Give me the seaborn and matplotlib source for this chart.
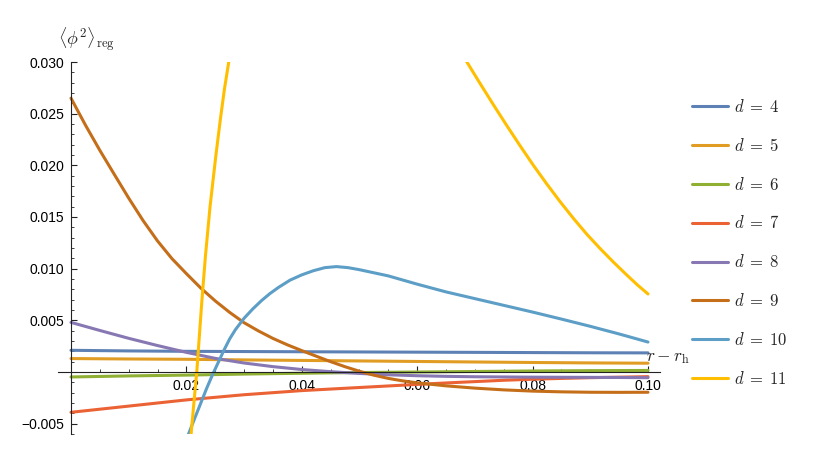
import numpy as np
import pandas as pd
import matplotlib
matplotlib.use("Agg")
import matplotlib.pyplot as plt
import seaborn as sns
from matplotlib.ticker import FixedLocator, FuncFormatter

# ---------------- data ----------------
dims = [4, 5, 6, 7, 8, 9, 10, 11]
colors = ["#5E81B5", "#E19C24", "#8FB032", "#EB6235",
          "#8778B3", "#C56E1A", "#5D9EC7", "#FFBF00"]

x_coarse = [0.00, 0.01, 0.02, 0.03, 0.04, 0.05, 0.06, 0.07, 0.08, 0.09, 0.10]
y_d4 = [0.00210, 0.00204, 0.00200, 0.00198, 0.00196, 0.00194, 0.00192, 0.00190, 0.00188, 0.00186, 0.00185]
y_d5 = [0.00130, 0.00126, 0.00123, 0.00117, 0.00112, 0.00107, 0.00102, 0.00097, 0.00092, 0.00088, 0.00085]
y_d6 = [-0.00048, -0.00038, -0.00030, -0.00020, -0.00012, -0.00005, 0.00000, 0.00005, 0.00010, 0.00013, 0.00015]

x_fine = [0.000, 0.005, 0.010, 0.015, 0.020, 0.025, 0.030, 0.035, 0.040, 0.045, 0.050,
          0.055, 0.060, 0.065, 0.070, 0.075, 0.080, 0.085, 0.090, 0.095, 0.100]
y_d7 = [-0.00390, -0.00360, -0.00330, -0.00300, -0.00270, -0.00245, -0.00220, -0.00200, -0.00180, -0.00165, -0.00150,
        -0.00135, -0.00120, -0.00106, -0.00093, -0.00080, -0.00070, -0.00062, -0.00055, -0.00050, -0.00045]
y_d8 = [0.00480, 0.00402, 0.00326, 0.00256, 0.00190, 0.00132, 0.00087, 0.00052, 0.00024, 0.00003, -0.00014,
        -0.00027, -0.00036, -0.00042, -0.00046, -0.00048, -0.00050, -0.00051, -0.00052, -0.00053, -0.00055]

x_d9 = [0.0000, 0.0025, 0.0050, 0.0075, 0.0100, 0.0125, 0.0150, 0.0175, 0.0200, 0.0225,
        0.0250, 0.0275, 0.0300, 0.0325, 0.0350, 0.0375, 0.0400, 0.0425, 0.0450, 0.0475,
        0.0500, 0.0525, 0.0550, 0.0575, 0.0600, 0.0650, 0.0700, 0.0750, 0.0800, 0.0850,
        0.0900, 0.0950, 0.1000]
y_d9 = [0.02650, 0.02390, 0.02145, 0.01913, 0.01683, 0.01465, 0.01268, 0.01097, 0.00952, 0.00812,
        0.00688, 0.00577, 0.00477, 0.00397, 0.00325, 0.00263, 0.00207, 0.00153, 0.00100, 0.00051,
        0.00007, -0.00031, -0.00062, -0.00086, -0.00105, -0.00134, -0.00156, -0.00173, -0.00185, -0.00192,
        -0.00196, -0.00197, -0.00196]

x_d10 = [0.0203, 0.0215, 0.0225, 0.0235, 0.0245, 0.0255, 0.0265, 0.0275, 0.0285, 0.0300,
         0.0315, 0.0330, 0.0345, 0.0360, 0.0380, 0.0400, 0.0420, 0.0440, 0.0460, 0.0480,
         0.0500, 0.0525, 0.0550, 0.0575, 0.0600, 0.0650, 0.0700, 0.0750, 0.0800, 0.0850,
         0.0900, 0.0950, 0.1000]
y_d10 = [-0.0061, -0.0044, -0.0030, -0.0016, -0.0003, 0.0009, 0.0021, 0.0032, 0.0041, 0.0052,
         0.0061, 0.0069, 0.0076, 0.0082, 0.0089, 0.0094, 0.0098, 0.0101, 0.0102, 0.0101,
         0.0099, 0.0096, 0.0093, 0.0089, 0.0085, 0.00775, 0.0071, 0.00645, 0.0058, 0.00512,
         0.00442, 0.00368, 0.0029]

x_d11_left = [0.0208, 0.0213, 0.0218, 0.02225, 0.0227, 0.0233, 0.0241, 0.0251, 0.0259, 0.0266, 0.0274]
y_d11_left = [-0.0061, -0.0030, 0.0000, 0.0035, 0.0070, 0.0112, 0.0160, 0.0209, 0.0245, 0.0274, 0.0302]
x_d11_right = [0.0685, 0.0708, 0.0732, 0.0755, 0.0778, 0.0801, 0.0824, 0.0848, 0.0871, 0.0894,
               0.0917, 0.0940, 0.0963, 0.0982, 0.1000]
y_d11_right = [0.03010, 0.02801, 0.02587, 0.02387, 0.02192, 0.02003, 0.01824, 0.01646, 0.01485, 0.01333,
               0.01195, 0.01064, 0.00940, 0.00841, 0.00755]

x_ticks = [0.02, 0.04, 0.06, 0.08, 0.10]
y_ticks = [-0.005, 0.005, 0.010, 0.015, 0.020, 0.025, 0.030]

series = [
    (x_coarse, y_d4), (x_coarse, y_d5), (x_coarse, y_d6), (x_fine, y_d7),
    (x_fine, y_d8), (x_d9, y_d9), (x_d10, y_d10), (x_d11_left, y_d11_left),
]

# ---------------- style ----------------
sns.set_theme(style="white")
plt.rcParams["font.family"] = ["Liberation Sans", "DejaVu Sans"]
plt.rcParams["mathtext.fontset"] = "cm"

fig = plt.figure(figsize=(8.17, 4.59), dpi=100)
W, H = 817, 459
ax = fig.add_axes([58 / W, 1 - 434 / H, (660 - 58) / W, (434 - 62) / H])

lw = 2.2
for d, c, (xs, ys) in zip(dims, colors, series):
    df = pd.DataFrame({"x": xs, "y": ys})
    sns.lineplot(data=df, x="x", y="y", ax=ax, color=c, lw=lw, sort=False,
                 estimator=None, label=rf"$d\;=\;{d}$")
df_r = pd.DataFrame({"x": x_d11_right, "y": y_d11_right})
sns.lineplot(data=df_r, x="x", y="y", ax=ax, color=colors[-1], lw=lw, sort=False,
             estimator=None, label="_nolegend_")

ax.set_xlim(-0.00225, 0.10208)
ax.set_ylim(-0.0060, 0.0300)
ax.set_xlabel("")
ax.set_ylabel("")

for s in ["top", "right"]:
    ax.spines[s].set_visible(False)
ax.spines["left"].set_position(("data", 0))
ax.spines["bottom"].set_position(("data", 0))
for s in ["left", "bottom"]:
    ax.spines[s].set_color("#222222")
    ax.spines[s].set_linewidth(0.8)

ax.xaxis.set_major_locator(FixedLocator(x_ticks))
ax.xaxis.set_minor_locator(FixedLocator([i * 0.005 for i in range(1, 21) if i % 4 != 0]))
ax.yaxis.set_major_locator(FixedLocator(y_ticks))
ax.yaxis.set_minor_locator(FixedLocator([i * 0.001 for i in range(-6, 31) if i % 5 != 0]))
ax.xaxis.set_major_formatter(FuncFormatter(lambda v, p: f"{v:.2f}"))
ax.yaxis.set_major_formatter(FuncFormatter(lambda v, p: f"{v:.3f}".replace("-", "\u2212")))

ax.tick_params(axis="both", which="major", direction="in", length=4, width=0.8,
               color="#222222", labelsize=10, pad=5, labelcolor="black")
ax.tick_params(axis="both", which="minor", direction="in", length=2.5, width=0.6,
               color="#222222")
ax.tick_params(axis="x", which="both", bottom=True, top=False)
ax.tick_params(axis="y", which="both", left=True, right=False)

# axis labels (Mathematica style at axis ends)
ax.annotate(r"$\langle\phi^2\rangle_{\rm reg}$", xy=(0, 0.030), xytext=(-9.5, 6),
            textcoords="offset points", ha="left", va="bottom", fontsize=13,
            annotation_clip=False)
ax.annotate(r"$r-r_{\rm h}$", xy=(0.10, 0), xytext=(-1.5, 4.5),
            textcoords="offset points", ha="left", va="bottom", fontsize=12.5,
            annotation_clip=False)

leg = ax.legend(loc="upper left", bbox_to_anchor=(692 / W, 1 - 98 / H),
                bbox_transform=fig.transFigure, frameon=False, fontsize=12,
                handlelength=2.15, handletextpad=0.35, labelspacing=1.31,
                borderpad=0, borderaxespad=0)

fig.savefig("out.png", dpi=100)
